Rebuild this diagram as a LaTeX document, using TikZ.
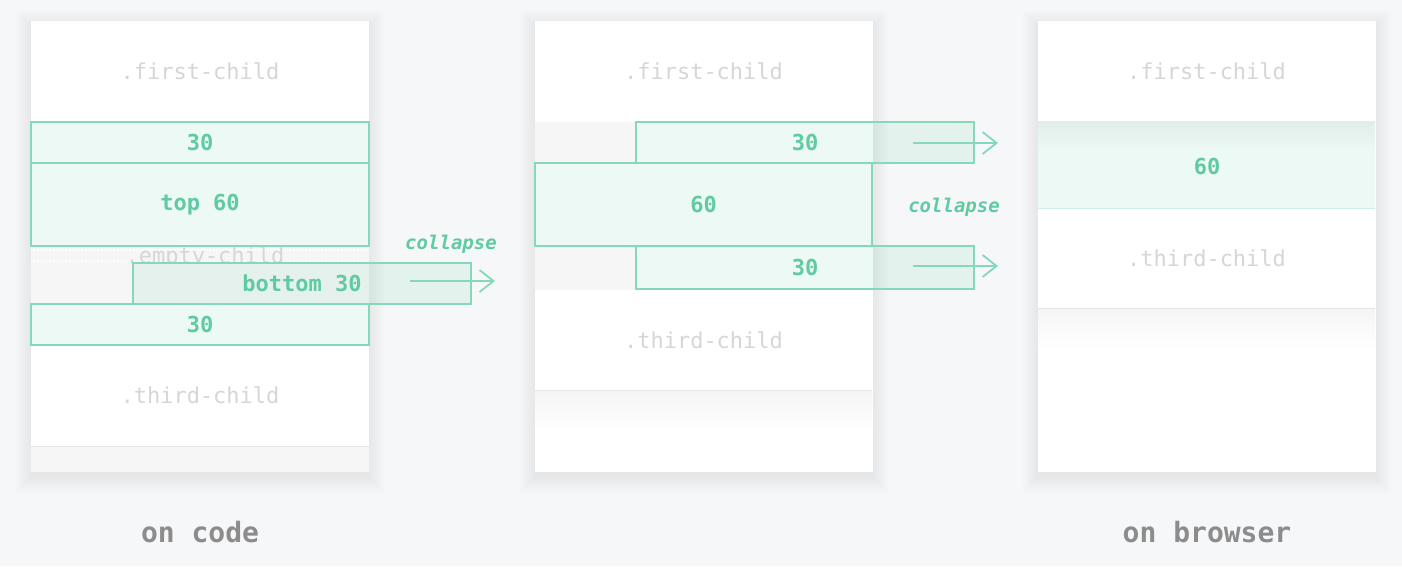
\documentclass[tikz,border=0pt]{standalone}
\usepackage{xcolor}
\usepackage{fontspec}
\usepackage{tikz}
\setmonofont{DejaVu Sans Mono}
\usetikzlibrary{arrows.meta}

\definecolor{pagebg}{HTML}{F6F7F9}
\definecolor{mintline}{RGB}{134,216,187}
\definecolor{minttext}{RGB}{96,202,162}
\definecolor{mintfill}{RGB}{110,210,170}
\definecolor{childtext}{RGB}{214,214,214}
\definecolor{labeltext}{RGB}{140,140,140}
\definecolor{padgray}{RGB}{246,246,246}

\tikzset{
  childlbl/.style={text=childtext, font=\ttfamily\fontsize{22}{26}\selectfont},
  sizelbl/.style={text=minttext, text opacity=1, font=\ttfamily\bfseries\fontsize{22}{26}\selectfont},
  marginbox/.style={draw=mintline, line width=1.5pt, fill=mintfill, fill opacity=0.13},
  collapselbl/.style={text=minttext, font=\ttfamily\bfseries\itshape\fontsize{19}{22}\selectfont},
  movearrow/.style={draw=mintline, line width=1.8pt, -{Straight Barb[length=14pt,width=22pt,line width=1.8pt]}},
  caption/.style={text=labeltext, font=\ttfamily\bfseries\fontsize{28}{32}\selectfont},
}

\begin{document}
\begin{tikzpicture}[x=1pt, y=-1pt]
            \useasboundingbox (0,0) rectangle (1402,566);
            \fill[pagebg] (0,0) rectangle (1402,566);

            % soft shadows under the three panels
            \foreach \px in {31,535,1038} {
              \foreach \s in {1,...,16}
                \fill[black, opacity=0.004] (\px-\s,21-\s+5) rectangle (\px+338+\s,472+\s+5);
              \fill[white] (\px,21) rectangle (\px+338,472);
            }

            % on code
            \path (31,21) rectangle (369,122) node[pos=.5, childlbl] (lfirst) {.first-child};
            \fill[padgray] (31,246) rectangle (369,304);
            \draw[white, dotted, line width=1.2pt] (31,250) -- (369,250);
            \draw[white, dotted, line width=1.2pt] (31,261) -- (369,261);
            \begin{scope}
              \clip (31,247) rectangle (369,263);
              \node[childlbl, anchor=base] (lempty) at (205,263) {.empty-child};
            \end{scope}
            \draw[marginbox] (31,122) rectangle (369,163) node[pos=.5, sizelbl] (ltop) {30};
            \draw[marginbox] (31,163) rectangle (369,246) node[pos=.5, sizelbl] (ltopsixty) {top 60};
            \draw[marginbox] (133,263) rectangle (471,304) node[pos=.5, sizelbl] (lbottom) {bottom 30};
            \draw[marginbox] (31,304) rectangle (369,345) node[pos=.5, sizelbl] (lbot) {30};
            \path (31,345) rectangle (369,446) node[pos=.5, childlbl] (lthird) {.third-child};
            \fill[padgray] (31,446) rectangle (369,472);
            \draw[black!10, line width=1pt] (31,446) -- (369,446);

            \coordinate (lfrom) at (410,281);
            \coordinate (lto) at (495,281);
            \draw[movearrow] (lfrom) -- (lto);
            \node[collapselbl] (lcollapse) at (451,244) {collapse};

            % collapsing
            \path (535,21) rectangle (872,122) node[pos=.5, childlbl] (mfirst) {.first-child};
            \fill[padgray] (535,122) rectangle (636,163);
            \fill[padgray] (535,246) rectangle (636,290);
            \draw[marginbox] (636,122) rectangle (974,163) node[pos=.5, sizelbl] (mtop) {30};
            \draw[marginbox] (535,163) rectangle (872,246) node[pos=.5, sizelbl] (msixty) {60};
            \draw[marginbox] (636,246) rectangle (974,289) node[pos=.5, sizelbl] (mbot) {30};
            \path (535,290) rectangle (872,390) node[pos=.5, childlbl] (mthird) {.third-child};
            \draw[black!10, line width=1pt] (535,390) -- (872,390);
            \shade[top color=black!4, bottom color=white] (535,391) rectangle (872,430);

            \coordinate (mfromtop) at (913,143);
            \coordinate (mtotop) at (998,143);
            \coordinate (mfrombot) at (913,266);
            \coordinate (mtobot) at (998,266);
            \draw[movearrow] (mfromtop) -- (mtotop);
            \draw[movearrow] (mfrombot) -- (mtobot);
            \node[collapselbl] (mcollapse) at (954,207) {collapse};

            % on browser
            \path (1038,21) rectangle (1375,121) node[pos=.5, childlbl] (rfirst) {.first-child};
            \shade[top color=black!5, bottom color=white] (1038,121) rectangle (1375,150);
            \fill[mintfill, opacity=0.13] (1038,121) rectangle (1375,208);
            \draw[mintline!40, line width=1pt] (1038,208) -- (1375,208);
            \node[sizelbl] (rsixty) at (1207,166) {60};
            \path (1038,208) rectangle (1375,308) node[pos=.5, childlbl] (rthird) {.third-child};
            \draw[black!10, line width=1pt] (1038,308) -- (1375,308);
            \shade[top color=black!4, bottom color=white] (1038,309) rectangle (1375,350);

            \node[caption] (oncode) at (200,532) {on code};
            \node[caption] (onbrowser) at (1207,532) {on browser};
         \end{tikzpicture}
\end{document}
